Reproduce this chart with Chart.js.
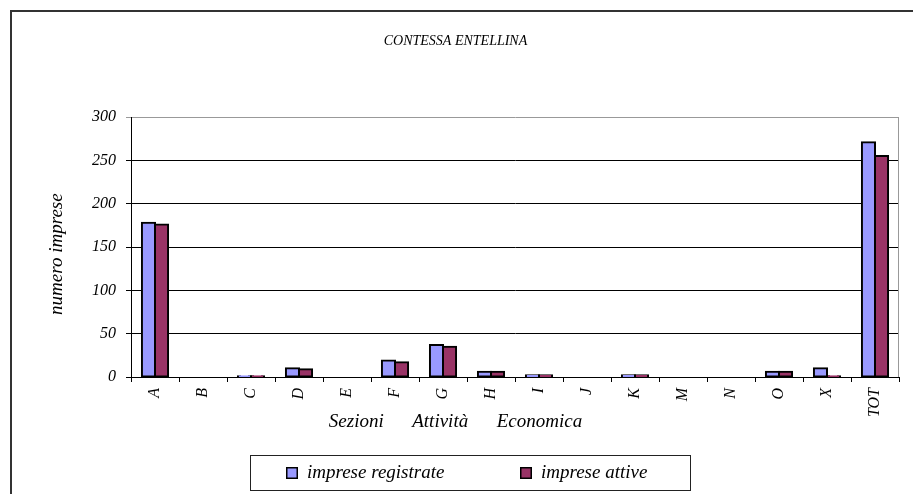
<!DOCTYPE html>
<html>
<head>
<meta charset="utf-8">
<script src="https://cdn.jsdelivr.net/npm/chart.js@4.4.1/dist/chart.umd.min.js"></script>
<style>
  html, body { margin: 0; padding: 0; background: #fff; }
  #wrap { width: 913px; height: 494px; position: relative; }
</style>
</head>
<body>
<div id="wrap"><canvas id="c" width="913" height="494"></canvas></div>
<script>
// Sezioni di attività economica
const categories = ['A', 'B', 'C', 'D', 'E', 'F', 'G', 'H', 'I', 'J', 'K', 'M', 'N', 'O', 'X', 'TOT'];
// Numero di imprese per sezione
const impreseRegistrate = [178, 0, 1, 10, 0, 19, 37, 6, 2, 0, 2, 0, 0, 6, 10, 271];
const impreseAttive     = [176, 0, 1, 9, 0, 17, 35, 6, 2, 0, 2, 0, 0, 6, 1, 255];
// Etichette dell'asse verticale
const yTicks = [0, 50, 100, 150, 200, 250, 300];

const seriesNames = ['imprese registrate', 'imprese attive'];
const seriesColors = ['#9999FF', '#993366'];
const SERIF = "'Liberation Serif', 'Times New Roman', serif";

// Cornice esterna del grafico e bordo destro dell'area del tracciato
const framePlugin = {
  id: 'frame',
  beforeDraw(chart) {
    const ctx = chart.ctx;
    ctx.save();
    ctx.fillStyle = '#fff';
    ctx.fillRect(0, 0, chart.width, chart.height);
    ctx.strokeStyle = '#333';
    ctx.lineWidth = 2;
    ctx.strokeRect(11, 11, chart.width + 20, chart.height + 20);
    ctx.restore();
  },
  afterDatasetsDraw(chart) {
    const ctx = chart.ctx;
    const a = chart.chartArea;
    ctx.save();
    ctx.strokeStyle = '#999';
    ctx.lineWidth = 1;
    ctx.beginPath();
    ctx.moveTo(Math.round(a.right) - 0.5, a.top);
    ctx.lineTo(Math.round(a.right) - 0.5, a.bottom);
    ctx.stroke();
    ctx.restore();
  }
};

// Legenda riquadrata sotto il grafico
const boxedLegend = {
  id: 'boxedLegend',
  afterDraw(chart) {
    const ctx = chart.ctx;
    ctx.save();
    ctx.strokeStyle = '#222';
    ctx.lineWidth = 1;
    ctx.strokeRect(250.5, 455.5, 440, 35);
    const xs = [286, 520];
    ctx.font = 'italic 19px ' + SERIF;
    ctx.textBaseline = 'middle';
    ctx.textAlign = 'left';
    chart.data.datasets.forEach((ds, i) => {
      const x = xs[i];
      ctx.fillStyle = ds.backgroundColor;
      ctx.fillRect(x, 467, 12, 12);
      ctx.strokeStyle = '#000';
      ctx.lineWidth = 1.5;
      ctx.strokeRect(x + 0.75, 467.75, 10.5, 10.5);
      ctx.fillStyle = '#000';
      ctx.fillText(ds.label, x + 21, 473);
    });
    ctx.restore();
  }
};

const barStyle = { borderColor: '#000', borderWidth: 2, borderSkipped: false, inflateAmount: 1 };

new Chart(document.getElementById('c'), {
  type: 'bar',
  data: {
    labels: categories,
    datasets: [
      Object.assign({ label: seriesNames[0], data: impreseRegistrate, backgroundColor: seriesColors[0] }, barStyle),
      Object.assign({ label: seriesNames[1], data: impreseAttive, backgroundColor: seriesColors[1] }, barStyle)
    ]
  },
  plugins: [framePlugin, boxedLegend],
  options: {
    responsive: false,
    animation: false,
    devicePixelRatio: 1,
    layout: { padding: { left: 12, right: 14, top: 0, bottom: 54 } },
    datasets: { bar: { categoryPercentage: 0.545, barPercentage: 1.0 } },
    plugins: {
      legend: { display: false },
      tooltip: { enabled: false },
      title: {
        display: true,
        text: 'CONTESSA ENTELLINA',
        color: '#000',
        font: { family: SERIF, size: 14, style: 'italic', weight: 'normal' },
        padding: { top: 33, bottom: 67.2 }
      },
      subtitle: {
        display: true,
        position: 'bottom',
        weight: 500,
        text: 'Sezioni      Attività      Economica',
        color: '#000',
        font: { family: SERIF, size: 19, style: 'italic', weight: 'normal' },
        padding: { top: -12.4, bottom: 6.6 }
      }
    },
    scales: {
      x: {
        afterFit(scale) { scale.height = 46; },
        grid: { offset: true, drawOnChartArea: false, color: '#000', tickLength: 5, lineWidth: 1 },
        border: { color: '#000', width: 1 },
        ticks: {
          color: '#000', minRotation: 90, maxRotation: 90, padding: 6, autoSkip: false,
          font: { family: SERIF, size: 16, style: 'italic' }
        }
      },
      y: {
        min: 0, max: 300,
        afterFit(scale) { scale.width = 119; },
        afterBuildTicks(scale) { scale.ticks = yTicks.map(v => ({ value: v })); },
        grid: {
          color: ctx => (ctx.tick && ctx.tick.value === 300 ? '#999' : '#000'),
          tickLength: 5, lineWidth: 1
        },
        border: { color: '#000', width: 1 },
        ticks: {
          color: '#000', padding: 10,
          font: { family: SERIF, size: 16, style: 'italic' }
        },
        title: {
          display: true, text: 'numero imprese\u00A0\u00A0\u00A0', color: '#000',
          font: { family: SERIF, size: 19, style: 'italic' },
          padding: { top: 33.6, bottom: 0 }
        }
      }
    }
  }
});
</script>
</body>
</html>
